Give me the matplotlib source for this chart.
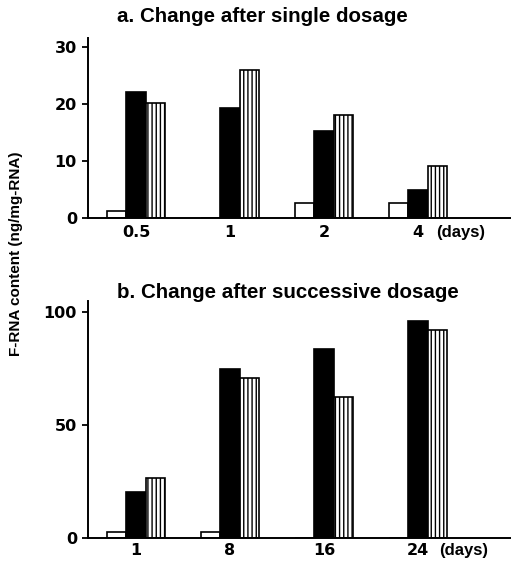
import numpy as np
import matplotlib
matplotlib.use("Agg")
import matplotlib.pyplot as plt

# === data === #
days_a = ["0.5", "1", "2", "4"]
white_a = [1.2, 0, 2.6, 2.6]
black_a = [22.0, 19.3, 15.2, 4.8]
hatch_a = [20.1, 25.9, 17.9, 9.1]

days_b = ["1", "8", "16", "24"]
white_b = [2.9, 2.9, 0, 0]
black_b = [20.3, 74.9, 83.9, 96.1]
hatch_b = [26.5, 70.8, 62.7, 92.3]

plt.rcParams['font.family'] = ['Liberation Sans', 'DejaVu Sans']
plt.rcParams['font.weight'] = 'bold'
plt.rcParams['hatch.linewidth'] = 1.0

W, H = 511, 563
fig = plt.figure(figsize=(W / 100, H / 100), dpi=100)

# axes boxes in pixels: left, top, right, bottom
ax_a = fig.add_axes([88 / W, 1 - 217.5 / H, (W - 88) / W, (217.5 - 38) / H])
ax_b = fig.add_axes([88 / W, 1 - 538.3 / H, (W - 88) / W, (538.3 - 300.7) / H])

bw = 0.207
num_font = dict(family='DejaVu Sans', fontsize=11.5, fontweight='bold')


def draw(ax, labels, white, black, hatch, ymax, yticks, xpad):
    x = np.arange(len(labels))
    ax.bar(x - bw, white, bw, color='white', edgecolor='black', linewidth=1.2)
    ax.bar(x, black, bw, color='black', edgecolor='black', linewidth=1.2)
    ax.bar(x + bw, hatch, bw, color='white', edgecolor='black', linewidth=1.2,
           hatch='||||')
    ax.set_xlim(-0.51, 3.99)
    ax.set_ylim(0, ymax)
    ax.set_xticks(x)
    ax.set_xticklabels(labels, **num_font)
    ax.set_yticks(yticks)
    ax.set_yticklabels([str(t) for t in yticks], **num_font)
    ax.tick_params(axis='x', length=0, pad=xpad)
    ax.tick_params(axis='y', length=4, width=1.3, pad=4)
    for s in ['top', 'right']:
        ax.spines[s].set_visible(False)
    for s in ['left', 'bottom']:
        ax.spines[s].set_linewidth(1.4)


draw(ax_a, days_a, white_a, black_a, hatch_a, 31.5, [0, 10, 20, 30], 5.5)
draw(ax_b, days_b, white_b, black_b, hatch_b, 105.1, [0, 50, 100], 3.5)

fig.text(262 / W, 1 - 17 / H, "a. Change after single dosage",
         ha='center', va='center', fontsize=14.8, fontweight='bold')
fig.text(288 / W, 1 - 293 / H, "b. Change after successive dosage",
         ha='center', va='center', fontsize=14.8, fontweight='bold')

fig.text(436 / W, 1 - 232 / H, "(days)", ha='left', va='center',
         fontsize=12, fontweight='bold')
fig.text(439 / W, 1 - 551 / H, "(days)", ha='left', va='center',
         fontsize=12, fontweight='bold')

fig.text(16 / W, 1 - 254 / H, "F-RNA content (ng/mg-RNA)", rotation=90,
         ha='center', va='center', fontsize=11, fontweight='bold')

plt.savefig("out.png", dpi=100)
